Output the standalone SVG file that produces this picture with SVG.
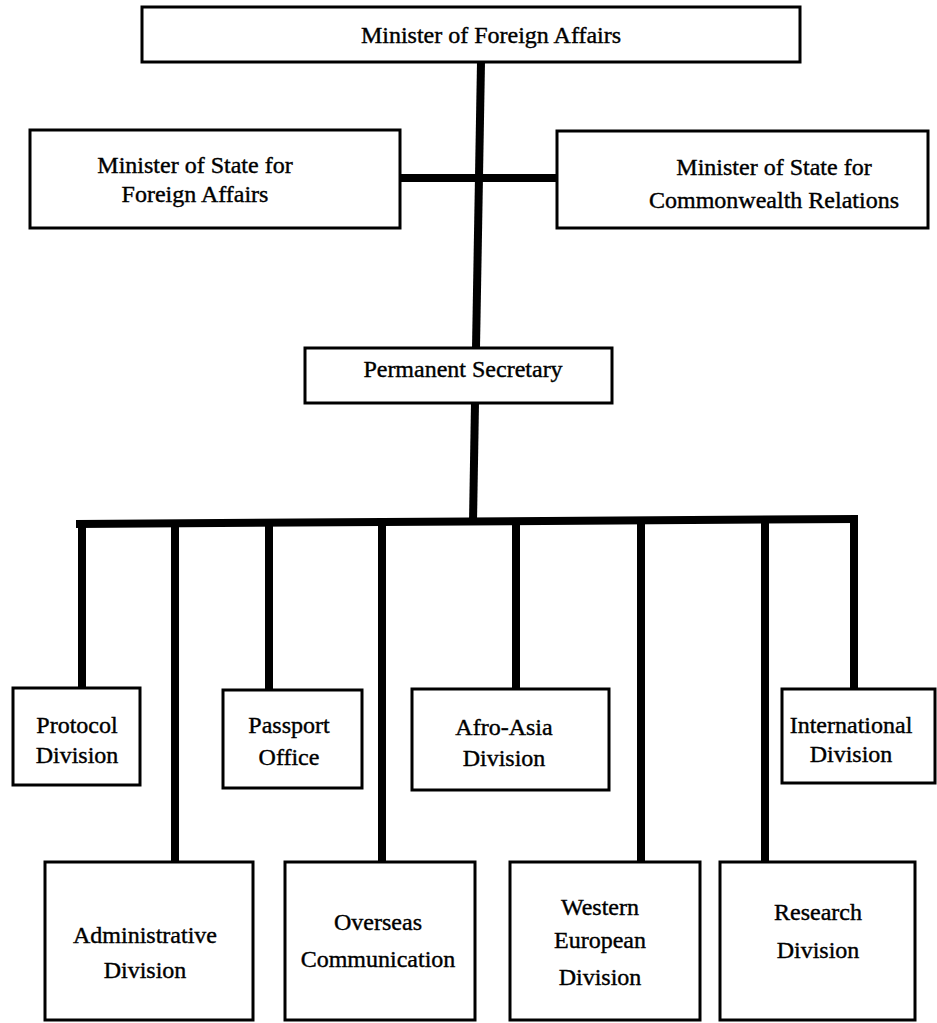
<svg xmlns="http://www.w3.org/2000/svg" width="937" height="1023" viewBox="0 0 937 1023">
  <style>
    .box { fill: #ffffff; stroke: #000000; stroke-width: 3; }
    .lbl { font-family: "Liberation Serif", "Times New Roman", serif; font-size: 24px; fill: #000000; stroke: #000000; stroke-width: 0.4; text-anchor: middle; }
    .link { stroke: #000000; stroke-width: 8; fill: none; stroke-linecap: butt; }
  </style>
  <rect width="937" height="1023" fill="#ffffff"/>

  <!-- connectors -->
  <g id="connectors">
    <line class="link" x1="481" y1="62" x2="476" y2="348"/>
    <line class="link" x1="400" y1="178" x2="557" y2="178" stroke-width="7"/>
    <line class="link" x1="475" y1="403" x2="473" y2="522"/>
    <line class="link" x1="76" y1="524" x2="858" y2="519"/>
    <line class="link" x1="82" y1="522" x2="82" y2="688"/>
    <line class="link" x1="175" y1="522" x2="175" y2="862"/>
    <line class="link" x1="269" y1="522" x2="269" y2="690"/>
    <line class="link" x1="382" y1="521" x2="382" y2="862"/>
    <line class="link" x1="516" y1="521" x2="516" y2="689"/>
    <line class="link" x1="641" y1="520" x2="641" y2="862"/>
    <line class="link" x1="765" y1="520" x2="765" y2="862"/>
    <line class="link" x1="854" y1="519" x2="854" y2="689"/>
  </g>

  <g id="minister">
    <rect class="box" x="142" y="7" width="658" height="55"/>
    <text class="lbl" x="491" y="43">Minister of Foreign Affairs</text>
  </g>

  <g id="state-foreign">
    <rect class="box" x="30" y="130" width="370" height="98"/>
    <text class="lbl" x="195" y="173">Minister of State for</text>
    <text class="lbl" x="195" y="202">Foreign Affairs</text>
  </g>

  <g id="state-commonwealth">
    <rect class="box" x="557" y="131" width="371" height="97"/>
    <text class="lbl" x="774" y="175">Minister of State for</text>
    <text class="lbl" x="774" y="208">Commonwealth Relations</text>
  </g>

  <g id="permanent-secretary">
    <rect class="box" x="305" y="348" width="307" height="55"/>
    <text class="lbl" x="463" y="377">Permanent Secretary</text>
  </g>

  <g id="protocol">
    <rect class="box" x="13" y="688" width="127" height="97"/>
    <text class="lbl" x="77" y="733">Protocol</text>
    <text class="lbl" x="77" y="763">Division</text>
  </g>

  <g id="passport">
    <rect class="box" x="223" y="690" width="139" height="98"/>
    <text class="lbl" x="289" y="733">Passport</text>
    <text class="lbl" x="289" y="765">Office</text>
  </g>

  <g id="afro-asia">
    <rect class="box" x="412" y="689" width="197" height="101"/>
    <text class="lbl" x="504" y="735">Afro-Asia</text>
    <text class="lbl" x="504" y="766">Division</text>
  </g>

  <g id="international">
    <rect class="box" x="782" y="689" width="153" height="94"/>
    <text class="lbl" x="851" y="733">International</text>
    <text class="lbl" x="851" y="762">Division</text>
  </g>

  <g id="administrative">
    <rect class="box" x="45" y="862" width="208" height="158"/>
    <text class="lbl" x="145" y="943">Administrative</text>
    <text class="lbl" x="145" y="978">Division</text>
  </g>

  <g id="overseas">
    <rect class="box" x="285" y="862" width="190" height="158"/>
    <text class="lbl" x="378" y="930">Overseas</text>
    <text class="lbl" x="378" y="967">Communication</text>
  </g>

  <g id="western-european">
    <rect class="box" x="510" y="862" width="190" height="158"/>
    <text class="lbl" x="600" y="915">Western</text>
    <text class="lbl" x="600" y="948">European</text>
    <text class="lbl" x="600" y="985">Division</text>
  </g>

  <g id="research">
    <rect class="box" x="720" y="862" width="195" height="158"/>
    <text class="lbl" x="818" y="920">Research</text>
    <text class="lbl" x="818" y="958">Division</text>
  </g>
</svg>
